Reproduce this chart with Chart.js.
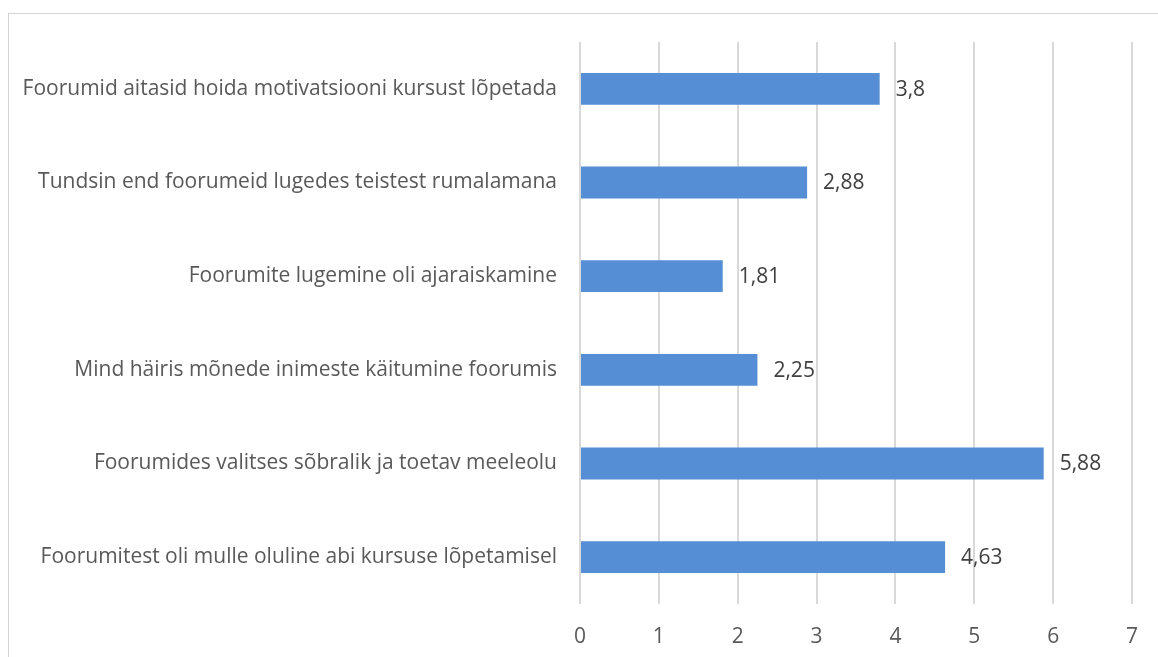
<!DOCTYPE html>
<html><head><meta charset="utf-8">
<script src="https://cdn.jsdelivr.net/npm/chart.js@4"></script>
<style>
html,body{margin:0;padding:0;background:#fff;overflow:hidden;}
#wrap{position:absolute;left:0;top:0;width:1158px;height:657px;}
#frame{position:absolute;left:8px;top:13px;width:1300px;height:800px;border:1px solid #d4d4d4;box-sizing:border-box;}
canvas{position:absolute;left:0;top:0;}
</style></head>
<body>
<div id="wrap"><div id="frame"></div><canvas id="c" width="1158" height="657"></canvas></div>
<script>
const categories = [
  "Foorumid aitasid hoida motivatsiooni kursust lõpetada",
  "Tundsin end foorumeid lugedes teistest rumalamana",
  "Foorumite lugemine oli ajaraiskamine",
  "Mind häiris mõnede inimeste käitumine foorumis",
  "Foorumides valitses sõbralik ja toetav meeleolu",
  "Foorumitest oli mulle oluline abi kursuse lõpetamisel"
];
const values = [3.8, 2.88, 1.81, 2.25, 5.88, 4.63];
const valueLabels = ["3,8", "2,88", "1,81", "2,25", "5,88", "4,63"];
const xTicks = [0, 1, 2, 3, 4, 5, 6, 7];

const FONT = "'Open Sans', sans-serif";
const FS = 21;

const labelPlugin = {
  id: 'valueLabels',
  afterDatasetsDraw(chart) {
    const ctx = chart.ctx;
    const meta = chart.getDatasetMeta(0);
    ctx.save();
    ctx.font = FS + "px " + FONT;
    ctx.fillStyle = "#404040";
    ctx.textAlign = "left";
    ctx.textBaseline = "middle";
    meta.data.forEach((bar, i) => {
      ctx.fillText(valueLabels[i], bar.x + 16, bar.y + 1);
    });
    ctx.restore();
  }
};

new Chart(document.getElementById('c'), {
  type: 'bar',
  data: {
    labels: categories,
    datasets: [{
      data: values,
      backgroundColor: '#558ed5',
      borderWidth: 0,
      barPercentage: 0.68,
      categoryPercentage: 0.5
    }]
  },
  options: {
    indexAxis: 'y',
    responsive: false,
    animation: false,
    devicePixelRatio: 1,
    layout: { padding: { top: 42, right: 24, left: 0, bottom: 0 } },
    plugins: { legend: { display: false }, tooltip: { enabled: false } },
    scales: {
      x: {
        min: 0, max: 7,
        afterBuildTicks: s => { s.ticks = xTicks.map(v => ({ value: v })); },
        afterFit: s => { s.height = 53; },
        grid: { color: '#d9d9d9', lineWidth: 2, drawTicks: false },
        border: { display: false },
        ticks: { color: '#595959', font: { family: FONT, size: FS }, padding: 20 }
      },
      y: {
        afterFit: s => { s.width = 580; },
        grid: { display: false, drawTicks: false },
        border: { display: false },
        ticks: { color: '#595959', font: { family: FONT, size: FS }, padding: 23 }
      }
    }
  },
  plugins: [labelPlugin]
});
</script>
</body></html>
